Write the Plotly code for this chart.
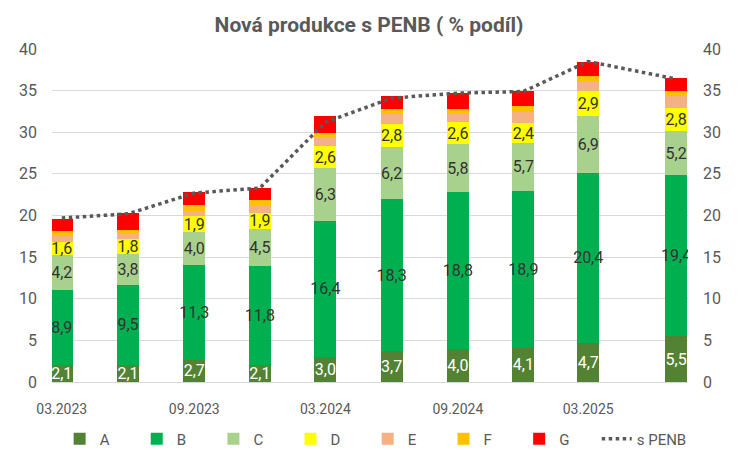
import plotly.graph_objects as go

dates = ["2023-03-01", "2023-06-01", "2023-09-01", "2023-12-01", "2024-03-01",
         "2024-06-01", "2024-09-01", "2024-12-01", "2025-03-01", "2025-07-01"]
A = [2.1, 2.1, 2.7, 2.1, 3.0, 3.7, 4.0, 4.1, 4.7, 5.5]
B = [8.9, 9.5, 11.3, 11.8, 16.4, 18.3, 18.8, 18.9, 20.4, 19.4]
C = [4.2, 3.8, 4.0, 4.5, 6.3, 6.2, 5.8, 5.7, 6.9, 5.2]
D = [1.6, 1.8, 1.9, 1.9, 2.6, 2.8, 2.6, 2.4, 2.9, 2.8]
E = [0.7, 0.6, 0.6, 1.0, 1.1, 1.2, 1.1, 1.3, 1.2, 1.4]
F = [0.6, 0.5, 0.8, 0.6, 0.5, 0.6, 0.45, 0.8, 0.7, 0.6]
G = [1.5, 2.0, 1.5, 1.4, 2.0, 1.5, 2.0, 1.7, 1.6, 1.6]
PENB = [19.7, 20.2, 22.7, 23.3, 31.2, 34.1, 34.7, 34.9, 38.5, 36.4]

series = [
    ("A", A, "#548235", True, "white"),
    ("B", B, "#00B050", True, "#333333"),
    ("C", C, "#A9D18E", True, "#333333"),
    ("D", D, "#FFFF00", True, "#333333"),
    ("E", E, "#F4B183", False, None),
    ("F", F, "#FFC000", False, None),
    ("G", G, "#FF0000", False, None),
]

BAR_W = 30.5 * 86400000
GRAY = "#595959"
FONT = "Roboto"
PAD = "\u00a0" * 6

fig = go.Figure()
for name, vals, color, labeled, tcolor in series:
    kw = {}
    if labeled:
        kw = dict(texttemplate="%{y:.1f}", textposition="inside",
                  insidetextanchor="middle", textangle=0, constraintext="none",
                  insidetextfont=dict(color=tcolor, size=16, family=FONT))
    fig.add_trace(go.Bar(x=dates, y=vals, name=name + PAD,
                         marker=dict(color=color, line=dict(width=0)),
                         width=BAR_W, hoverinfo="skip", **kw))

fig.add_trace(go.Scatter(x=dates, y=PENB, name="s PENB", mode="lines", yaxis="y2",
                         line=dict(color=GRAY, width=3.5, dash="dot")))

fig.update_layout(
    width=738, height=454,
    barmode="stack",
    separators=", ",
    plot_bgcolor="white", paper_bgcolor="white",
    margin=dict(l=52, r=50, t=49, b=72, autoexpand=False),
    title=dict(text="<b>Nová produkce s PENB ( % podíl)</b>", x=0.5, xanchor="center",
               y=0.945, yanchor="middle", font=dict(size=21, color=GRAY, family=FONT)),
    font=dict(family=FONT, color=GRAY),
    showlegend=True,
    legend=dict(orientation="h", x=0.012, xanchor="left",
                y=-0.171, yanchor="middle",
                font=dict(size=15, color=GRAY, family=FONT), traceorder="normal"),
    xaxis=dict(type="date", range=["2023-02-15 10:00", "2025-07-17 14:00"],
               tick0="2023-03-01", dtick="M6", tickformat="%m.%Y", ticks="",
               tickfont=dict(size=14, color=GRAY), showgrid=False,
               showline=True, linecolor="#D9D9D9", linewidth=1, zeroline=False,
               ticklabelstandoff=14, automargin=False),
    yaxis=dict(range=[0, 40], dtick=5, tickfont=dict(size=16, color=GRAY),
               showgrid=True, gridcolor="#D9D9D9", gridwidth=1, zeroline=False,
               ticks="", ticklabelstandoff=14, automargin=False),
    yaxis2=dict(range=[0, 40], dtick=5, overlaying="y", side="right",
                tickfont=dict(size=16, color=GRAY), showgrid=False, zeroline=False,
                ticks="", ticklabelstandoff=14, automargin=False),
)

fig.write_html("out.html")
